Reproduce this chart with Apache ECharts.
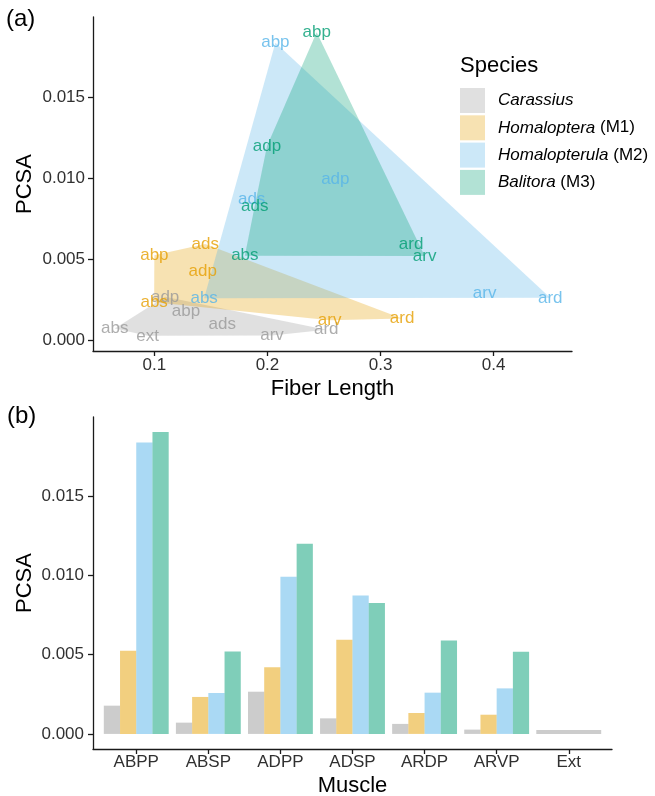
<!DOCTYPE html>
<html><head><meta charset="utf-8">
<script src="https://cdn.jsdelivr.net/npm/echarts@6/dist/echarts.min.js"></script>
<style>html,body{margin:0;padding:0;background:#fff}#c{width:655px;height:796px}</style>
</head><body><div id="c"></div>
<script>
// ---------- data ----------
const species = ['Carassius', 'Homaloptera', 'Homalopterula', 'Balitora'];
const speciesSuffix = ['', ' (M1)', ' (M2)', ' (M3)'];
const muscleLabels = ['abp', 'abs', 'adp', 'ads', 'ard', 'arv', 'ext'];
const categories = ['ABPP', 'ABSP', 'ADPP', 'ADSP', 'ARDP', 'ARVP', 'Ext'];

const fiberCarassius     = [0.128, 0.065, 0.1095, 0.160, 0.252, 0.204, 0.094];
const fiberHomaloptera   = [0.100, 0.0998, 0.1427, 0.145, 0.319, 0.255, null];
const fiberHomalopterula = [0.207, 0.144, 0.260, 0.186, 0.450, 0.392, null];
const fiberBalitora      = [0.2435, 0.180, 0.1996, 0.1887, 0.327, 0.339, null];

const pcsaCarassius      = [0.00178, 0.00071, 0.00266, 0.00098, 0.00063, 0.00027, 0.00025];
const pcsaHomaloptera    = [0.00524, 0.00233, 0.00421, 0.00593, 0.00132, 0.00121, null];
const pcsaHomalopterula  = [0.01838, 0.00258, 0.00991, 0.00872, 0.00260, 0.00287, null];
const pcsaBalitora       = [0.01903, 0.00520, 0.01199, 0.00826, 0.00589, 0.00518, null];

const xTicksTop = [0.1, 0.2, 0.3, 0.4];
const yTicks = [0, 0.005, 0.010, 0.015];

// ---------- styles ----------
const baseColors = ['#999999', '#E69F00', '#56B4E9', '#009E73'];
function rgba(hex, a) {
  const n = parseInt(hex.slice(1), 16);
  return 'rgba(' + (n >> 16) + ',' + ((n >> 8) & 255) + ',' + (n & 255) + ',' + a + ')';
}
const FONT = 'Liberation Sans, Arial, sans-serif';
const AXIS_COLOR = '#1a1a1a';
const TICK_TEXT = '#303030';

const fibers = [fiberCarassius, fiberHomaloptera, fiberHomalopterula, fiberBalitora];
const pcsas = [pcsaCarassius, pcsaHomaloptera, pcsaHomalopterula, pcsaBalitora];

// points per species
const points = fibers.map((f, s) => {
  const out = [];
  f.forEach((x, i) => { if (x != null && pcsas[s][i] != null) out.push({ value: [x, pcsas[s][i]], name: muscleLabels[i] }); });
  return out;
});

function hull(pts) {
  const p = pts.slice().sort((a, b) => a[0] - b[0] || a[1] - b[1]);
  const cross = (o, a, b) => (a[0] - o[0]) * (b[1] - o[1]) - (a[1] - o[1]) * (b[0] - o[0]);
  const lower = [], upper = [];
  for (const q of p) { while (lower.length >= 2 && cross(lower[lower.length - 2], lower[lower.length - 1], q) <= 0) lower.pop(); lower.push(q); }
  for (let i = p.length - 1; i >= 0; i--) { const q = p[i]; while (upper.length >= 2 && cross(upper[upper.length - 2], upper[upper.length - 1], q) <= 0) upper.pop(); upper.push(q); }
  upper.pop(); lower.pop();
  return lower.concat(upper);
}
const hulls = points.map(ps => hull(ps.map(d => d.value)));

// axis ranges with 5% expansion (ggplot style)
const allX = [].concat(...points.map(ps => ps.map(d => d.value[0])));
const allY = [].concat(...points.map(ps => ps.map(d => d.value[1])));
function expand(arr) { const mn = Math.min(...arr), mx = Math.max(...arr), r = mx - mn; return [mn - 0.05 * r, mx + 0.05 * r]; }
const xr = expand(allX), yr = expand(allY);
const barMax = Math.max(...[].concat(...pcsas).filter(v => v != null));
const yrBar = [-0.05 * barMax, barMax * 1.05];

const axisLine = { show: true, onZero: false, lineStyle: { color: AXIS_COLOR, width: 1.3 } };
const axisTick = { show: true, length: 5, lineStyle: { color: AXIS_COLOR, width: 1.3 } };
const tickLabel = { color: TICK_TEXT, fontSize: 17, fontFamily: FONT };
const nameStyle = { color: '#000', fontSize: 22, fontFamily: FONT };

const series = [];
// polygons
species.forEach((sp, s) => {
  series.push({
    type: 'custom', name: sp, xAxisIndex: 0, yAxisIndex: 0,
    itemStyle: { color: rgba(baseColors[s], 0.3) },
    data: [hulls[s][0]],
    z: 2,
    renderItem: function (params, api) {
      if (params.dataIndex !== 0) return null;
      return { type: 'polygon', silent: true,
        shape: { points: hulls[s].map(p => api.coord(p)) },
        style: { fill: rgba(baseColors[s], 0.3) } };
    }
  });
});
// text labels
species.forEach((sp, s) => {
  series.push({
    type: 'scatter', name: sp + '-labels', xAxisIndex: 0, yAxisIndex: 0,
    symbolSize: 0, z: 5, silent: true,
    data: points[s],
    label: { show: true, position: 'inside', formatter: p => p.name,
      color: baseColors[s], fontSize: 17, fontFamily: FONT }
  });
});
// bars
species.forEach((sp, s) => {
  series.push({
    type: 'bar', name: sp + '-bars', xAxisIndex: 1, yAxisIndex: 1,
    barGap: '0%', barCategoryGap: '10%', silent: true,
    itemStyle: { color: rgba(baseColors[s], 0.5) },
    data: categories.map((c, i) => [i, i === categories.length - 1 ? null : pcsas[s][i]])
  });
});
// Ext single bar (only one species measured)
series.push({
  type: 'bar', name: 'ext-bar', xAxisIndex: 2, yAxisIndex: 1,
  barGap: '0%', barCategoryGap: '10%', silent: true,
  itemStyle: { color: rgba(baseColors[0], 0.5) },
  data: categories.map((c, i) => [i, i === categories.length - 1 ? pcsaCarassius[i] : null])
});

const legendFmt = {};
species.forEach((sp, s) => { legendFmt[sp] = '{i|' + sp + '}' + speciesSuffix[s]; });

const option = {
  animation: false,
  backgroundColor: '#fff',
  textStyle: { fontFamily: FONT },
  title: [
    { text: '(a)', left: 6, top: 7, padding: 0, textStyle: { fontSize: 24, fontWeight: 'normal', color: '#000', fontFamily: FONT } },
    { text: '(b)', left: 7, top: 404, padding: 0, textStyle: { fontSize: 24, fontWeight: 'normal', color: '#000', fontFamily: FONT } },
    { text: 'Species', left: 460, top: 55, padding: 0, textStyle: { fontSize: 22, fontWeight: 'normal', color: '#000', fontFamily: FONT } }
  ],
  legend: {
    data: species, orient: 'vertical', left: 460, top: 88, padding: 0,
    itemWidth: 25, itemHeight: 25, itemGap: 2.3, icon: 'rect', selectedMode: false,
    formatter: n => legendFmt[n],
    textStyle: { color: '#000', fontSize: 17, fontFamily: FONT, padding: [0, 0, 0, 8],
      rich: { i: { fontStyle: 'italic', fontSize: 17, fontFamily: FONT, color: '#000' } } }
  },
  grid: [
    { left: 93, top: 17, width: 479, height: 334, outerBoundsMode: 'none', containLabel: false },
    { left: 93, top: 417, width: 519, height: 332, outerBoundsMode: 'none', containLabel: false }
  ],
  xAxis: [
    { type: 'value', gridIndex: 0, min: xr[0], max: xr[1], name: 'Fiber Length', nameLocation: 'middle', nameGap: 27,
      nameTextStyle: nameStyle, axisLine, axisTick: Object.assign({ customValues: xTicksTop }, axisTick),
      axisLabel: Object.assign({ customValues: xTicksTop, margin: 6, formatter: v => v.toFixed(1) }, tickLabel),
      splitLine: { show: false } },
    { type: 'value', gridIndex: 1, min: -0.6, max: categories.length - 0.4, name: 'Muscle', nameLocation: 'middle', nameGap: 26,
      nameTextStyle: nameStyle, axisLine, axisTick: Object.assign({ customValues: categories.map((c, i) => i) }, axisTick),
      axisLabel: Object.assign({ customValues: categories.map((c, i) => i), margin: 5, formatter: v => categories[Math.round(v)] }, tickLabel),
      splitLine: { show: false } },
    { type: 'value', gridIndex: 1, min: -0.6, max: categories.length - 0.4, show: false }
  ],
  yAxis: [
    { type: 'value', gridIndex: 0, min: yr[0], max: yr[1], name: 'PCSA', nameLocation: 'middle', nameGap: 57, nameRotate: 90,
      nameMoveOverlap: false,
      nameTextStyle: nameStyle, axisLine, axisTick: Object.assign({ customValues: yTicks }, axisTick),
      axisLabel: Object.assign({ customValues: yTicks, margin: 8, formatter: v => v.toFixed(3) }, tickLabel),
      splitLine: { show: false } },
    { type: 'value', gridIndex: 1, min: yrBar[0], max: yrBar[1], name: 'PCSA', nameLocation: 'middle', nameGap: 57, nameRotate: 90,
      nameMoveOverlap: false,
      nameTextStyle: nameStyle, axisLine, axisTick: Object.assign({ customValues: yTicks }, axisTick),
      axisLabel: Object.assign({ customValues: yTicks, margin: 9, formatter: v => v.toFixed(3) }, tickLabel),
      splitLine: { show: false } }
  ],
  series
};
const chart = echarts.init(document.getElementById('c'), null, { renderer: 'canvas' });
chart.setOption(option);
</script></body></html>
